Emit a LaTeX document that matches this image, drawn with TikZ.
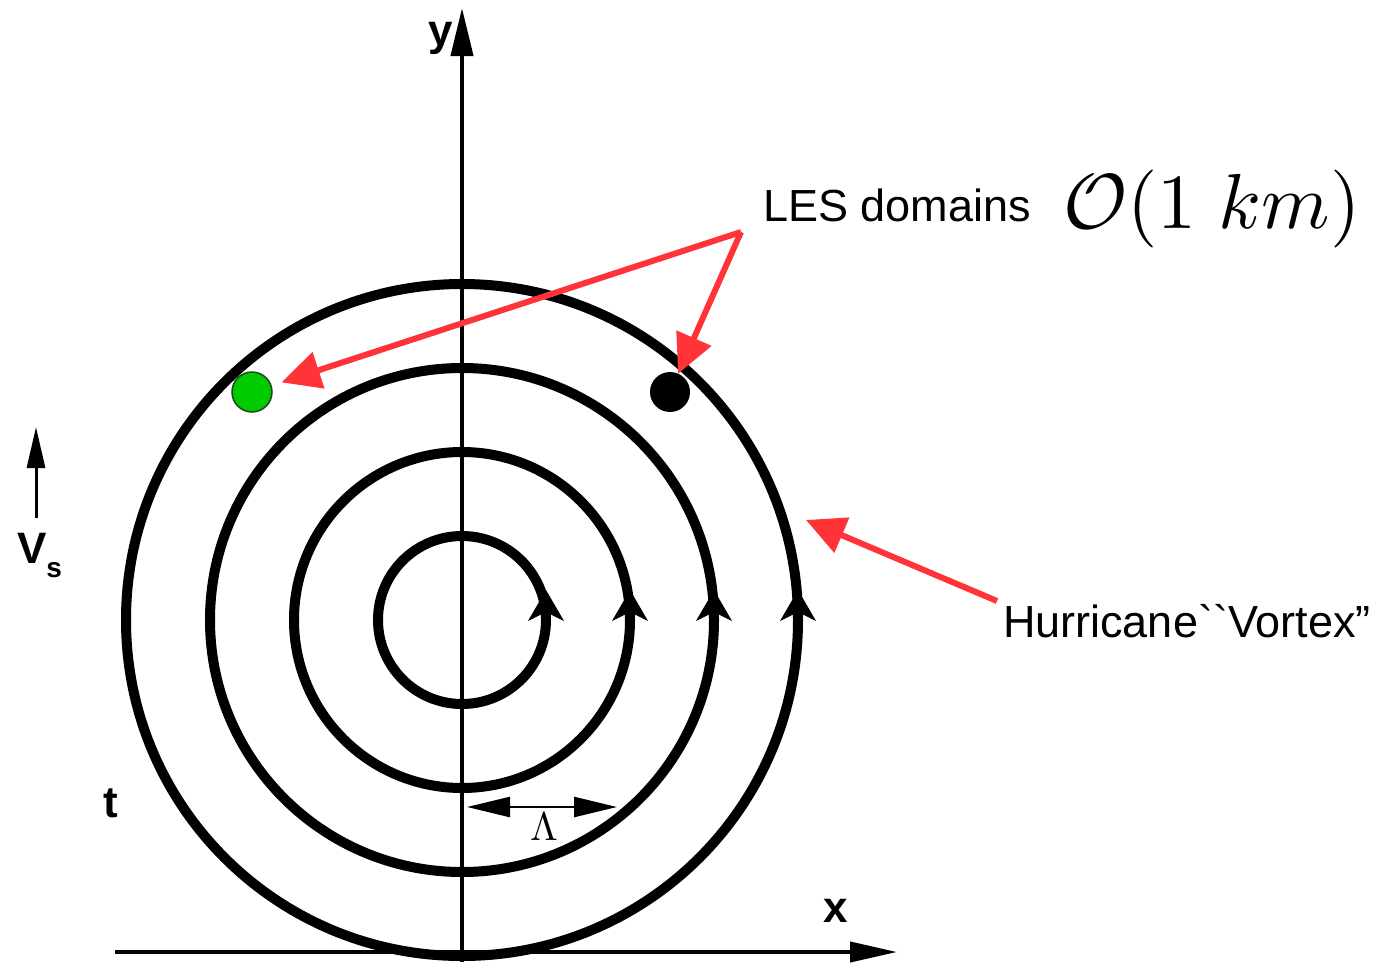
\documentclass[tikz,border=0pt]{standalone}
\usepackage[no-math]{fontspec}
\usepackage{graphicx}
\setmainfont{Liberation Sans}
\newfontfamily\rawsans{Liberation Sans}[Ligatures=ResetAll]
\usetikzlibrary{arrows.meta}
\definecolor{redarrow}{RGB}{255,51,56}
\definecolor{dotgreen}{RGB}{0,204,0}
\definecolor{dotedge}{RGB}{30,70,30}
\begin{document}
\begin{tikzpicture}[x=1pt,y=-1pt,
  ring/.style={circle,draw=black,line width=10pt,inner sep=0pt,outer sep=0pt,minimum size=#1},
  circarrow/.style={line width=1pt,-{Stealth[length=31pt,width=36pt,inset=9pt]}},
  axis/.style={line width=4pt,-{Triangle[length=48pt,width=22pt]}},
  redarr/.style={draw=redarrow,line width=6pt,-{Triangle[length=39pt,width=37pt]}},
  lbl/.style={inner sep=0pt,outer sep=0pt,anchor=base west,font=\fontsize{45}{54}\selectfont},
  axlbl/.style={inner sep=0pt,outer sep=0pt,anchor=base west,font=\fontsize{44}{52}\selectfont\bfseries},
  dot/.style={circle,inner sep=0pt,minimum size=40pt,outer sep=0pt}
]
\useasboundingbox (0,0) rectangle (1393,962);
% axes
\coordinate (ybot) at (462,962);
\coordinate (ytop) at (462,8);
\coordinate (xleft) at (115,952);
\coordinate (xright) at (897,952);
\draw[axis] (ybot) -- (ytop);
\draw[axis,-{Triangle[length=47pt,width=20pt]}] (xleft) -- (xright);
\node[axlbl] (ylab) at (428,45) {y};
\node[axlbl] (xlab) at (823,922) {x};
% rings
\node[ring=168pt] (c1) at (462,620) {};
\node[ring=336pt] (c2) at (462,620) {};
\node[ring=504pt] (c3) at (462,620) {};
\node[ring=672pt] (c4) at (462,620) {};
\foreach \c in {c1,c2,c3,c4}{
  \draw[circarrow] (\c.east) -- ++(0,-30);
}
% V_s
\coordinate (vsbot) at (36,518);
\coordinate (vstop) at (36,427);
\draw[line width=3pt,-{Triangle[length=41pt,width=18pt]}] (vsbot) -- (vstop);
\node[axlbl] (vs) at (17,563) {V\raisebox{-14pt}{\fontsize{28}{30}\selectfont s}};
\node[axlbl] (t) at (103,817) {t};
% Lambda
\coordinate (lamL) at (467,807);
\coordinate (lamR) at (617,807);
\draw[line width=2.5pt,{Triangle[length=43pt,width=20pt]}-{Triangle[length=43pt,width=20pt]}] (lamL) -- (lamR);
\node[inner sep=0pt,anchor=base west] (lam) at (530,840) {\scalebox{4}{$\Lambda$}};
% dots
\node[dot,fill=dotgreen,draw=dotedge,line width=1.5pt] (gdot) at (252,392) {};
\node[dot,fill=black] (bdot) at (670,392) {};
% labels
\node[lbl] (les) at (763,221) {LES domains};
\node[inner sep=0pt,anchor=base west] (okm) at (1063,228) {\scalebox{7.8}{$\mathcal{O}(1\ km)$}};
\node[lbl] (hur) at (1003,637) {Hurricane{\rawsans ``}Vortex”};
% red arrows
\coordinate (j) at (741,232);
\coordinate (hstart) at (997,601);
\coordinate (vpt) at (806,520);
\draw[redarr,shorten >=11pt] (j) -- (gdot);
\draw[redarr] (j) -- (bdot);
\draw[redarr] (hstart) -- (vpt);
\end{tikzpicture}
\end{document}
